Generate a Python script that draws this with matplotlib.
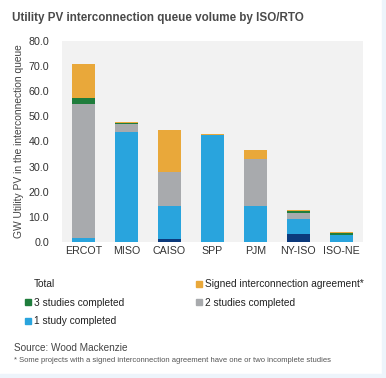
import numpy as np
import matplotlib.pyplot as plt
from matplotlib.lines import Line2D

plt.rcParams['font.family'] = ['Liberation Sans', 'DejaVu Sans']

regions = ["ERCOT", "MISO", "CAISO", "SPP", "PJM", "NY-ISO", "ISO-NE"]

# GW by study stage (stacked bottom to top)
total_other = [0.0, 0.0, 1.2, 0.0, 0.0, 3.2, 0.0]
one_study = [1.7, 43.7, 13.2, 42.5, 14.4, 5.8, 2.9]
two_studies = [53.3, 3.1, 13.6, 0.0, 18.5, 2.6, 0.0]
three_studies = [2.3, 0.5, 0.0, 0.2, 0.0, 0.7, 0.8]
signed = [13.6, 0.3, 16.4, 0.3, 3.7, 0.4, 0.4]

yticks = [0, 10, 20, 30, 40, 50, 60, 70, 80]

c_navy = "#0c3a7c"
c_blue = "#29a4dd"
c_gray = "#a8aaad"
c_green = "#1f7d3c"
c_orange = "#e9a83a"

fig = plt.figure(figsize=(3.86, 3.78), dpi=100)
fig.patch.set_facecolor("white")

# light blue frame on the right and bottom edges
fig.add_artist(plt.Rectangle((382 / 386, 0), 4 / 386, 1, transform=fig.transFigure,
                             color="#edf4fb", zorder=0))
fig.add_artist(plt.Rectangle((0, 0), 1, 4 / 378, transform=fig.transFigure,
                             color="#edf4fb", zorder=0))

ax = fig.add_axes([0.160, 0.360, 0.780, 0.532])
ax.set_facecolor("#f2f2f2")

x = np.arange(len(regions))
w = 0.54
bottom = np.zeros(len(regions))
for vals, col in [(total_other, c_navy), (one_study, c_blue), (two_studies, c_gray),
                  (three_studies, c_green), (signed, c_orange)]:
    ax.bar(x, vals, w, bottom=bottom, color=col, linewidth=0)
    bottom += np.array(vals)

ax.set_xlim(-0.5, len(regions) - 0.5)
ax.set_ylim(0, 80)
ax.set_yticks(yticks)
ax.set_yticklabels([f"{v:.1f}" for v in yticks], fontsize=7.7, color="#333333")
ax.set_xticks(x)
ax.set_xticklabels(regions, fontsize=7.7, color="#333333")
ax.tick_params(axis="y", length=0, pad=9)
ax.tick_params(axis="x", length=0, pad=3)
for s in ax.spines.values():
    s.set_visible(False)

ax.set_ylabel("GW Utility PV in the interconnection queue", fontsize=7.4,
              color="#444444", labelpad=3)

fig.text(12 / 386, 1 - 18 / 378, "Utility PV interconnection queue volume by ISO/RTO",
         fontsize=8.4, fontweight="bold", color="#4a4a4a", va="center", ha="left")

def sq(col):
    return Line2D([], [], marker="s", linestyle="none", markersize=4,
                  markerfacecolor=col, markeredgecolor=col)

handles = [Line2D([], [], linestyle="none"), sq(c_green), sq(c_blue),
           sq(c_orange), sq(c_gray)]
labels = ["Total", "3 studies completed", "1 study completed",
          "Signed interconnection agreement*", "2 studies completed"]
fig.legend(handles, labels, ncol=2, loc="upper left",
           bbox_to_anchor=(16 / 386, 1 - 270 / 378), frameon=False,
           fontsize=7.3, handlelength=0.6, handletextpad=0.3,
           columnspacing=7.0, labelspacing=0.85, labelcolor="#222222")

fig.text(14 / 386, 1 - 348 / 378, "Source: Wood Mackenzie", fontsize=7.2,
         color="#444444", va="center")
fig.text(14 / 386, 1 - 361 / 378,
         "* Some projects with a signed interconnection agreement have one or two incomplete studies",
         fontsize=5.5, color="#555555", va="center")

fig.savefig("out.png", dpi=100)
